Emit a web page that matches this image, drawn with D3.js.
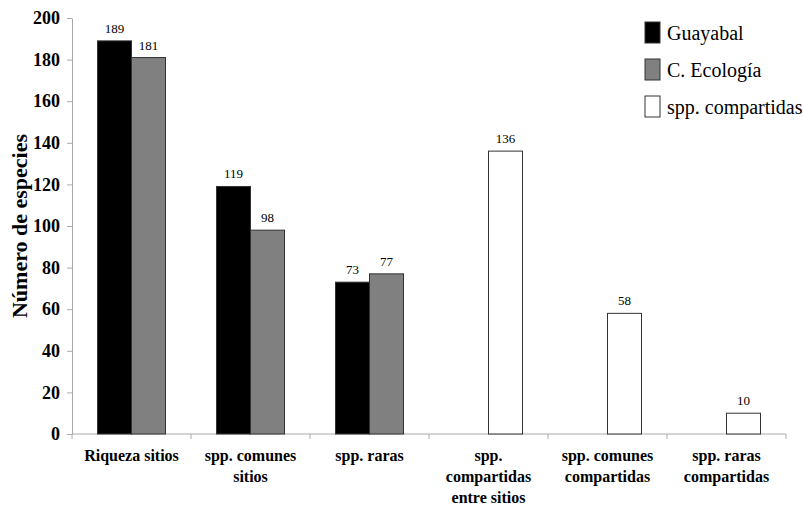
<!DOCTYPE html>
<html><head><meta charset="utf-8">
<script src="https://cdn.jsdelivr.net/npm/d3@7"></script>
<style>body{margin:0;background:#fff}svg{display:block}svg text{font-family:"Liberation Serif",serif}</style>
</head><body>
<svg id="c" width="803" height="507"></svg>
<script>
const categories = [["Riqueza sitios"], ["spp. comunes","sitios"], ["spp. raras"], ["spp.","compartidas","entre sitios"], ["spp. comunes","compartidas"], ["spp. raras","compartidas"]];
const guayabal = [189, 119, 73, null, null, null];
const ecologia = [181, 98, 77, null, null, null];
const compartidas = [null, null, null, 136, 58, 10];
const seriesNames = ["Guayabal", "C. Ecología", "spp. compartidas"];
const yTicks = [0,20,40,60,80,100,120,140,160,180,200];

const svg = d3.select("#c");
const font = "Liberation Serif";
const x = d3.scaleBand().domain(d3.range(categories.length)).range([72, 786]).padding(0);
const y = d3.scaleLinear().domain([0, 200]).range([434, 18]);
const slot = d3.scaleBand().domain([0, 1]).range([-34, 34]).padding(0);
const fills = ["#000000", "#808080", "#ffffff"];

// y axis
const ya = svg.append("g").attr("transform", "translate(72,0)")
  .call(d3.axisLeft(y).tickValues(yTicks).tickSize(5).tickPadding(7).tickSizeOuter(0));
ya.attr("font-family", null);
ya.select(".domain").attr("stroke", "#aaa");
ya.selectAll(".tick line").attr("stroke", "#aaa");
ya.selectAll(".tick text").style("font-family", font).attr("font-weight", "bold").attr("font-size", 18).attr("fill", "#000");

// x axis line + ticks at band boundaries
const xg = svg.append("g");
xg.append("line").attr("x1", 72).attr("x2", 786).attr("y1", y(0)).attr("y2", y(0)).attr("stroke", "#aaa");
xg.selectAll("line.t").data(d3.range(categories.length + 1)).join("line").attr("class", "t")
  .attr("x1", i => 72 + i * x.bandwidth()).attr("x2", i => 72 + i * x.bandwidth())
  .attr("y1", y(0)).attr("y2", y(0) + 5).attr("stroke", "#aaa");

// category labels
categories.forEach((lines, i) => {
  const t = svg.append("text").attr("text-anchor", "middle").style("font-family", font)
    .attr("font-weight", "bold").attr("font-size", 16);
  lines.forEach((ln, j) => t.append("tspan").attr("x", x(i) + x.bandwidth() / 2).attr("y", 461 + j * 21).text(ln));
});

// bars
function drawSeries(vals, slotIdx, fill) {
  const data = vals.map((v, i) => ({v, i})).filter(d => d.v != null);
  svg.append("g").selectAll("rect").data(data).join("rect")
    .attr("x", d => x(d.i) + x.bandwidth() / 2 + slot(slotIdx))
    .attr("y", d => y(d.v)).attr("width", slot.bandwidth()).attr("height", d => y(0) - y(d.v))
    .attr("fill", fill).attr("stroke", "#333").attr("stroke-width", 1);
  svg.append("g").selectAll("text").data(data).join("text")
    .attr("x", d => x(d.i) + x.bandwidth() / 2 + slot(slotIdx) + slot.bandwidth() / 2)
    .attr("y", d => y(d.v) - 8).attr("text-anchor", "middle")
    .style("font-family", font).attr("font-size", 13).attr("fill", "#000").text(d => d.v);
}
drawSeries(guayabal, 0, fills[0]);
drawSeries(ecologia, 1, fills[1]);
drawSeries(compartidas, 1, fills[2]);

// y title
svg.append("text").attr("transform", "translate(27,226) rotate(-90)").attr("text-anchor", "middle")
  .style("font-family", font).attr("font-weight", "bold").attr("font-size", 22).text("Número de especies");

// legend
const lg = svg.append("g");
seriesNames.forEach((n, i) => {
  const yy = 22 + i * 37;
  lg.append("rect").attr("x", 645).attr("y", yy).attr("width", 15).attr("height", 21)
    .attr("fill", fills[i]).attr("stroke", "#333");
  lg.append("text").attr("x", 667).attr("y", yy + 18).style("font-family", font).attr("font-size", 20).text(n);
});
</script>
</body></html>
